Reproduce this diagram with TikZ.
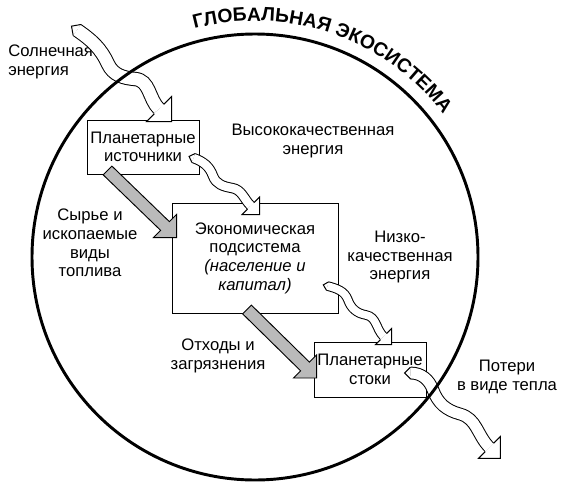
\documentclass[tikz,border=0pt]{standalone}
\usepackage{fontspec}
\setmainfont{Liberation Sans}
\usetikzlibrary{calc,decorations.text}

% white head of a flow arrow, corner #1, leg #2
\newcommand{\flowhead}[2]{%
  \pgfmathsetmacro\fhH{#2/2}\pgfmathsetmacro\fhW{0.19*#2}%
  \draw[line width=0.75pt, fill=white] ($(#1)+(-\fhH+\fhW,\fhH+\fhW)$) -- ($(#1)+(0,#2)$) -- (#1)
    -- ($(#1)+(-#2,0)$) -- ($(#1)+(-\fhH-\fhW,\fhH-\fhW)$);}
% pointed tail, start #1, direction #2, half width #3
\newcommand{\flowtail}[3]{%
  \draw[line width=0.75pt, fill=white] ($(#1)+(#2+90:#3)$) -- ($(#1)+(#2+180:#3)$) -- ($(#1)+(#2-90:#3)$);}
% straight grey arrow, tail #1, corner #2, leg #3
\newcommand{\grayflow}[3]{%
  \pgfmathsetmacro\fhH{#3/2}\pgfmathsetmacro\fhW{0.19*#3}%
  \draw[rawflow] ($(#1)+(\fhW,\fhW)$) -- ($(#2)+(-\fhH+\fhW,\fhH+\fhW)$) -- ($(#2)+(0,#3)$) -- (#2)
    -- ($(#2)+(-#3,0)$) -- ($(#2)+(-\fhH-\fhW,\fhH-\fhW)$) -- ($(#1)+(-\fhW,-\fhW)$) -- cycle;}

\begin{document}
\begin{tikzpicture}[x=0.75pt, y=0.75pt,
        font=\fontsize{12.5}{14}\selectfont,
        box/.style = {draw, line width=0.7pt, align=center, inner sep=0pt},
        band/.style = {double=white, line width=0.75pt, double distance=#1},
        rawflow/.style = {draw, line width=0.7pt, fill=black!27},
        lbl/.style = {align=center, inner sep=0pt}
    ]
    \useasboundingbox (0,0) rectangle (570,-492);
    \coordinate (cc) at (255,-257);

    \node[box, minimum width=84pt, minimum height=40.5pt] (plan) at (143,-147) {Планетарные\\источники};
    \node[box, minimum width=124.5pt, minimum height=82.5pt] (econ) at (255,-258)
        {Экономическая\\подсистема\\\textit{(население и}\\\textit{капитал)}};
    \node[box, minimum width=84pt, minimum height=41.25pt] (sink) at (370,-369.5) {Планетарные\\стоки};

    \node[lbl, align=left, anchor=west] (sunlbl) at (8,-62) {Солнечная\\энергия};
    \node[lbl] (hqlbl) at (313,-141) {Высококачественная\\энергия};
    \node[lbl] (rawlbl) at (90,-243) {Сырье и\\ископаемые\\виды\\топлива};
    \node[lbl] (lqlbl) at (400,-257) {Низко-\\качественная\\энергия};
    \node[lbl] (wastelbl) at (218,-356) {Отходы и\\загрязнения};
    \node[lbl] (heatlbl) at (507,-377) {Потери\\в виде тепла};

    % grey flows
    \grayflow{$(plan.south west)+(21,4)$}{$(econ.north west)+(5,-35)$}{23}
    \grayflow{$(econ.south)+(-8,4)$}{$(sink.west)+(3,-8.5)$}{23}

    % energy flows
    \coordinate (sunS) at (77,-30);
    \coordinate (sunT) at ($(plan.north west)+(85,-2)$);
    \coordinate (sunM) at ($(sunT)+(-12.5,12.5)$);
    \draw[band=9.3pt] (sunS) to[out=-35,in=115] (108,-64) to[out=-65,in=175] (135,-79) to[out=-5,in=135] (sunM);
    \flowtail{sunS}{-35}{6.7}
    \flowhead{sunT}{25}

    \coordinate (hqS) at ($(plan.east)+(-6,-11)$);
    \coordinate (hqT) at ($(econ.north west)+(88,-12)$);
    \coordinate (hqM) at ($(hqT)+(-8.75,8.75)$);
    \draw[band=6.3pt] (hqS) to[out=-20,in=110] (213,-176) to[out=-70,in=170] (232,-188) to[out=-10,in=135] (hqM);
    \flowtail{hqS}{-20}{4.7}
    \flowhead{hqT}{17.5}

    \coordinate (lqS) at ($(econ.east)+(-11,-28)$);
    \coordinate (lqT) at ($(sink.north west)+(78,-3)$);
    \coordinate (lqM) at ($(lqT)+(-8,8)$);
    \draw[band=5.7pt] (lqS) to[out=-15,in=110] (348,-300) to[out=-70,in=170] (366,-315) to[out=-10,in=135] (lqM);
    \flowtail{lqS}{-15}{4.3}
    \flowhead{lqT}{16}

    \coordinate (heatS) at ($(sink.east)+(-16,-3.5)$);
    \coordinate (heatT) at ($(sink.south east)+(74,-61)$);
    \coordinate (heatM) at ($(heatT)+(-11,11)$);
    \draw[band=8.1pt] (heatS) to[out=0,in=110] (433,-390) to[out=-70,in=165] (460,-414) to[out=-15,in=135] (heatM);
    \flowtail{heatS}{0}{5.9}
    \flowhead{heatT}{22}

    % ecosystem
    \draw[line width=2.2pt] (cc) circle[radius=223];
    \path[decorate, decoration={text along path, text align=center,
        text={|\bfseries\fontsize{14.5}{16}\selectfont|ГЛОБАЛЬНАЯ ЭКОСИСТЕМА}}]
        ($(cc)+(105:236)$) arc[start angle=105, end angle=37, radius=236];
\end{tikzpicture}
\end{document}
